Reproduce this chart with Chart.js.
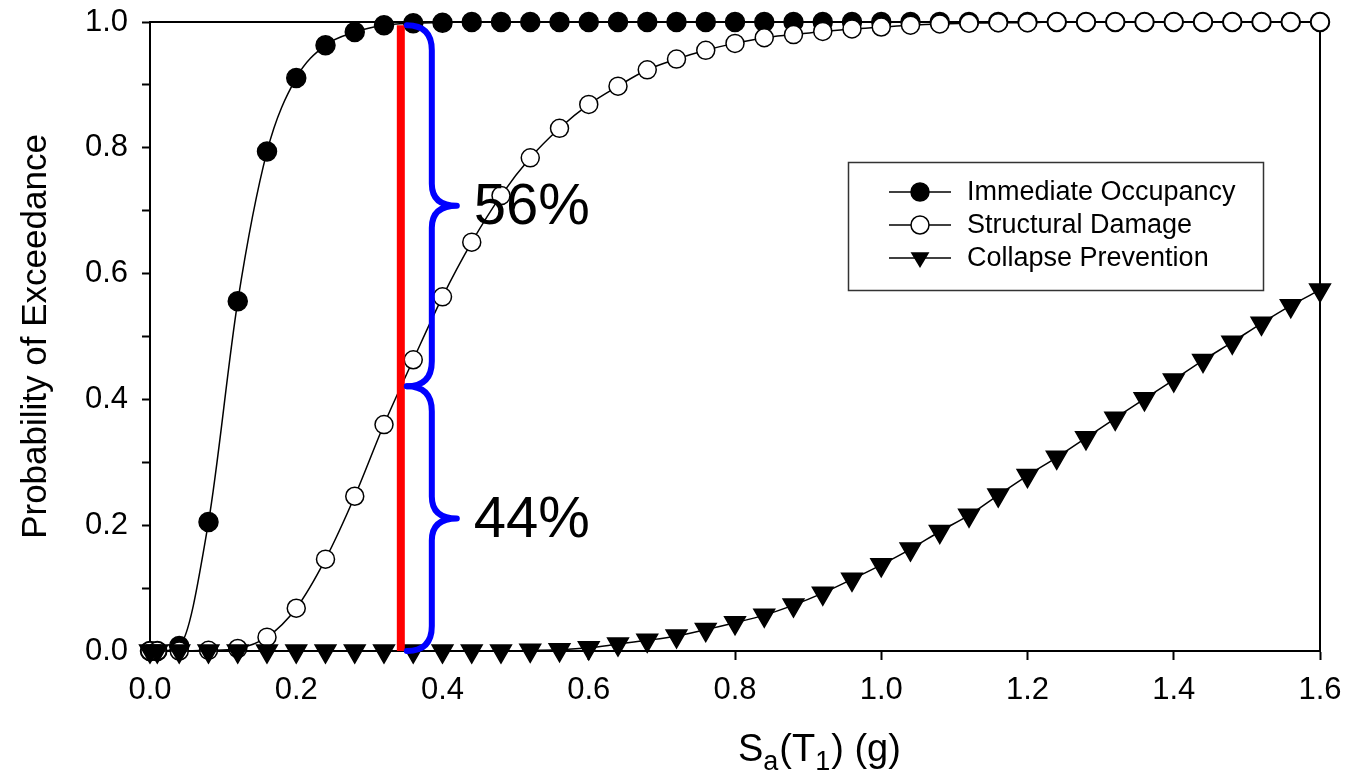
<!DOCTYPE html>
<html>
<head>
<meta charset="utf-8">
<script src="https://cdn.jsdelivr.net/npm/chart.js@4.4.1/dist/chart.umd.min.js"></script>
<style>
html,body{margin:0;padding:0;background:#fff;}
#wrap{width:1348px;height:777px;position:relative;}
</style>
</head>
<body>
<div id="wrap"><canvas id="c"></canvas></div>
<script>
// ---- data ----
const saValues = [0, 0.01, 0.04, 0.08, 0.12, 0.16, 0.20, 0.24, 0.28, 0.32, 0.36, 0.40, 0.44, 0.48, 0.52, 0.56, 0.60,
  0.64, 0.68, 0.72, 0.76, 0.80, 0.84, 0.88, 0.92, 0.96, 1.00, 1.04, 1.08, 1.12, 1.16, 1.20, 1.24, 1.28, 1.32,
  1.36, 1.40, 1.44, 1.48, 1.52, 1.56, 1.60];
const immediateOccupancy = [0, 0, 0.008, 0.205, 0.556, 0.794, 0.911, 0.963, 0.984, 0.995, 0.998, 0.999,
  1, 1, 1, 1, 1, 1, 1, 1, 1, 1, 1, 1, 1, 1, 1, 1, 1, 1, 1, 1, 1, 1, 1, 1, 1, 1, 1, 1, 1, 1];
const structuralDamage = [0, 0, 0, 0.001, 0.004, 0.022, 0.068, 0.146, 0.246, 0.360, 0.463, 0.563, 0.650, 0.724,
  0.784, 0.831, 0.869, 0.898, 0.924, 0.941, 0.955, 0.966, 0.975, 0.980, 0.985, 0.989, 0.992, 0.995, 0.997,
  0.998, 0.999, 0.999, 1, 1, 1, 1, 1, 1, 1, 1, 1, 1];
const collapsePrevention = [0, 0, 0, 0, 0, 0, 0, 0, 0, 0, 0, 0, 0, 0, 0.001, 0.002, 0.005, 0.011, 0.017, 0.024,
  0.034, 0.045, 0.057, 0.073, 0.092, 0.114, 0.137, 0.162, 0.190, 0.216, 0.248, 0.279, 0.308, 0.339, 0.370,
  0.401, 0.431, 0.462, 0.491, 0.521, 0.549, 0.574];
const seriesLabels = ['Immediate Occupancy', 'Structural Damage', 'Collapse Prevention'];
const xTicks = [0, 0.2, 0.4, 0.6, 0.8, 1.0, 1.2, 1.4, 1.6];
const yTicks = [0, 0.2, 0.4, 0.6, 0.8, 1.0];
// annotation: threshold Sa and the split of probabilities
const thresholdSa = 0.343;
const thresholdTop = 0.995;
const braceSpans = [[0.995, 0.421], [0.421, 0.0]];
const braceLabels = ['56%', '44%'];

const pts = arr => saValues.map((x, i) => ({x: x, y: arr[i]}));
const FONT = '"Liberation Sans", Arial, Helvetica, sans-serif';

// ---- plugins ----
const framePlugin = {
  id: 'frame',
  beforeDatasetsDraw(chart) {
    const {ctx, chartArea: ca} = chart;
    ctx.save();
    ctx.strokeStyle = '#000';
    ctx.lineWidth = 2;
    ctx.beginPath();
    ctx.moveTo(ca.left - 1, ca.top);
    ctx.lineTo(ca.right, ca.top);
    ctx.lineTo(ca.right, ca.bottom);
    ctx.stroke();
    ctx.restore();
  }
};

const annotationPlugin = {
  id: 'annot',
  afterDatasetsDraw(chart) {
    const {ctx, scales: {x, y}} = chart;
    const xr = x.getPixelForValue(thresholdSa);
    const x0 = xr + 6, xv = xr + 31, xt = xr + 56;
    ctx.save();
    ctx.strokeStyle = '#0000ff';
    ctx.lineWidth = 6;
    ctx.lineCap = 'round';
    ctx.lineJoin = 'round';
    braceSpans.forEach((span, i) => {
      const yT = y.getPixelForValue(span[0]);
      const yB = y.getPixelForValue(span[1]);
      const ym = (yT + yB) / 2;
      const r = 25, r2 = 22;
      ctx.beginPath();
      ctx.moveTo(x0, yT);
      ctx.quadraticCurveTo(xv, yT, xv, yT + r);
      ctx.lineTo(xv, ym - r2);
      ctx.quadraticCurveTo(xv, ym, xt, ym);
      ctx.quadraticCurveTo(xv, ym, xv, ym + r2);
      ctx.lineTo(xv, yB - r);
      ctx.quadraticCurveTo(xv, yB, x0, yB);
      ctx.stroke();
      ctx.fillStyle = '#000';
      ctx.font = '58px ' + FONT;
      ctx.textBaseline = 'middle';
      ctx.textAlign = 'left';
      ctx.fillText(braceLabels[i], xt + 17, ym + 2);
    });
    ctx.restore();
  },
  afterDraw(chart) {
    const {ctx, chartArea: ca} = chart;
    ctx.save();
    // y axis title
    ctx.fillStyle = '#000';
    ctx.font = '35px ' + FONT;
    ctx.textAlign = 'center';
    ctx.textBaseline = 'middle';
    ctx.translate(36, (ca.top + ca.bottom) / 2);
    ctx.rotate(-Math.PI / 2);
    ctx.fillText('Probability of Exceedance', 0, 0);
    ctx.restore();

    // x axis title with subscripts: Sa(T1) (g)
    ctx.save();
    ctx.fillStyle = '#000';
    ctx.textAlign = 'left';
    ctx.textBaseline = 'alphabetic';
    const big = '38px ' + FONT, small = '27px ' + FONT;
    let cx = 738; const base = 761;
    const parts = [['S', big, 0], ['a', small, 9], ['(T', big, 0], ['1', small, 9], [') (g)', big, 0]];
    parts.forEach(p => {
      ctx.font = p[1];
      ctx.fillText(p[0], cx, base + p[2]);
      cx += ctx.measureText(p[0]).width + (p[1] === small ? 1 : 0);
    });
    ctx.restore();

    // legend
    ctx.save();
    const lx = 848, ly = 162, lw = 415, lh = 128;
    ctx.strokeStyle = '#333';
    ctx.lineWidth = 1.5;
    ctx.strokeRect(lx + 0.5, ly + 0.5, lw, lh);
    const rows = [192, 225, 258];
    chart.data.datasets.slice(0, 3).forEach((ds, i) => {
      const yy = rows[i];
      ctx.strokeStyle = '#000';
      ctx.lineWidth = 1.5;
      ctx.beginPath();
      ctx.moveTo(889, yy); ctx.lineTo(951, yy); ctx.stroke();
      const mx = 920;
      ctx.beginPath();
      if (ds.pointStyle === 'triangle') {
        const r = 10.5;
        ctx.moveTo(mx - r * 0.9, yy - r * 0.55);
        ctx.lineTo(mx + r * 0.9, yy - r * 0.55);
        ctx.lineTo(mx, yy + r * 0.95);
        ctx.closePath();
        ctx.fillStyle = '#000';
        ctx.fill();
      } else {
        ctx.arc(mx, yy, 9, 0, Math.PI * 2);
        ctx.fillStyle = ds.pointBackgroundColor;
        ctx.fill();
        ctx.lineWidth = 1.5;
        ctx.stroke();
      }
      ctx.fillStyle = '#000';
      ctx.font = '27px ' + FONT;
      ctx.textAlign = 'left';
      ctx.textBaseline = 'middle';
      ctx.fillText(ds.label, 967, yy + 1);
    });
    ctx.restore();
  }
};

// ---- chart ----
const common = {
  showLine: true,
  borderColor: '#000',
  borderWidth: 1.5,
  cubicInterpolationMode: 'monotone',
  pointBorderColor: '#000',
  pointBorderWidth: 1.5,
  clip: false
};

new Chart(document.getElementById('c'), {
  type: 'scatter',
  data: {
    datasets: [
      Object.assign({}, common, {
        label: seriesLabels[0], data: pts(immediateOccupancy), order: 3,
        pointStyle: 'circle', pointRadius: 9.5, pointBackgroundColor: '#000'
      }),
      Object.assign({}, common, {
        label: seriesLabels[1], data: pts(structuralDamage), order: 2,
        pointStyle: 'circle', pointRadius: 9, pointBackgroundColor: '#fff'
      }),
      Object.assign({}, common, {
        label: seriesLabels[2], data: pts(collapsePrevention), order: 1,
        pointStyle: 'triangle', pointRotation: 180, pointRadius: 12, pointBackgroundColor: '#000'
      }),
      {
        label: 'threshold', data: [{x: thresholdSa, y: 0}, {x: thresholdSa, y: thresholdTop}],
        showLine: true, borderColor: '#ff0000', borderWidth: 8, pointRadius: 0, order: 0, clip: false,
        borderCapStyle: 'butt'
      }
    ]
  },
  options: {
    responsive: true,
    maintainAspectRatio: false,
    animation: false,
    devicePixelRatio: 1,
    layout: {padding: {left: 0, right: 28, top: 22, bottom: 0}},
    plugins: {legend: {display: false}, tooltip: {enabled: false}},
    scales: {
      x: {
        type: 'linear', min: 0, max: 1.6,
        afterFit: s => { s.height = 126; s.paddingLeft = 0; s.paddingRight = 0; },
        afterBuildTicks: s => { s.ticks = xTicks.map(v => ({value: v})); },
        ticks: {
          color: '#000', font: {size: 31, family: FONT}, padding: 12,
          callback: v => Number(v).toFixed(1), maxRotation: 0, autoSkip: false
        },
        grid: {drawOnChartArea: false, drawTicks: true, tickLength: 9, tickColor: '#000', tickWidth: 2},
        border: {color: '#000', width: 2}
      },
      y: {
        type: 'linear', min: 0, max: 1.0,
        afterFit: s => { s.width = 150; s.paddingTop = 0; s.paddingBottom = 0; },
        afterBuildTicks: s => {
          const t = [];
          for (let k = 0; k <= 10; k++) t.push({value: k / 10});
          s.ticks = t;
        },
        ticks: {
          color: '#000', font: {size: 31, family: FONT}, padding: 14, autoSkip: false,
          callback: v => (yTicks.some(t => Math.abs(t - v) < 1e-6) ? Number(v).toFixed(1) : '')
        },
        grid: {drawOnChartArea: false, drawTicks: true, tickLength: 8, tickColor: '#000', tickWidth: 2},
        border: {color: '#000', width: 2}
      }
    }
  },
  plugins: [framePlugin, annotationPlugin]
});
</script>
</body>
</html>
